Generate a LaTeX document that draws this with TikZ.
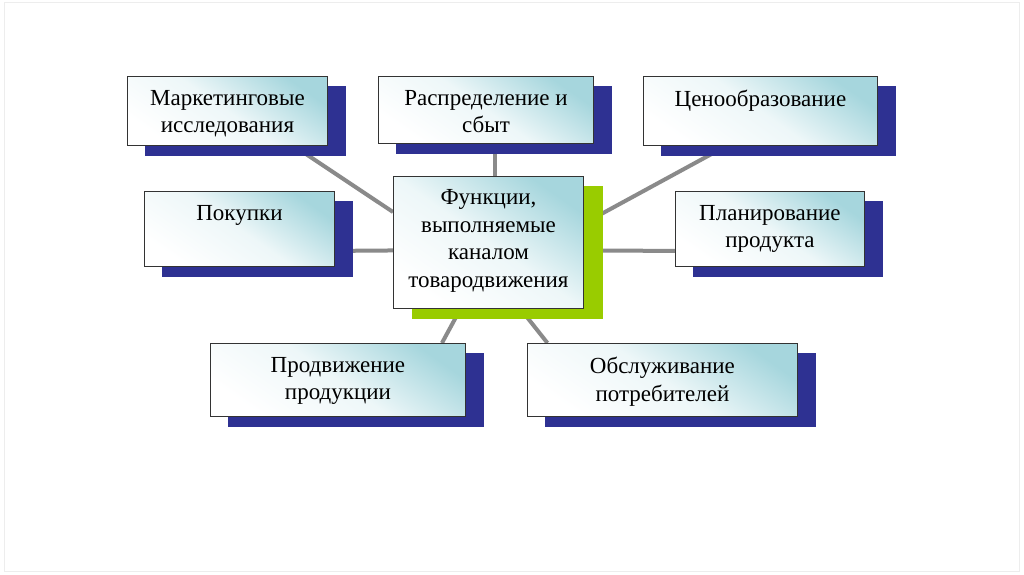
\documentclass[tikz,border=0pt]{standalone}
\usepackage{fontspec}
\setmainfont{Liberation Serif}
\usetikzlibrary{calc}
\definecolor{navy}{HTML}{2E3192}
\definecolor{lime}{HTML}{99CC00}
\definecolor{tealone}{HTML}{A6D6DD}
\definecolor{conn}{HTML}{8A8A8A}
\pgfdeclarelayer{bg}
\pgfdeclarelayer{sh}
\pgfsetlayers{bg,sh,main}
\begin{document}
\begin{tikzpicture}[x=1pt,y=-1pt,
  box/.style={draw=black!80, line width=0.9pt, inner sep=0pt, anchor=north west,
    top color=tealone, bottom color=white, middle color=white!80!tealone, shading angle=-35},
  lbl/.style={font=\fontsize{23}{27.5}\selectfont, align=center, anchor=north, inner sep=0pt},
  connector/.style={draw=conn, line width=4pt},
  shadowfill/.style={fill=navy}]
\useasboundingbox (0,0) rectangle (1024,574);

% boxes
\node[box, minimum width=200pt, minimum height=69pt] (mk) at (127,76) {};
\node[box, minimum width=215pt, minimum height=67pt] (ds) at (378,76) {};
\node[box, minimum width=234pt, minimum height=69pt] (price) at (643,76) {};
\node[box, minimum width=190pt, minimum height=75pt] (pk) at (144,191) {};
\node[box, minimum width=190pt, minimum height=132pt] (ctr) at (393,176) {};
\node[box, minimum width=189pt, minimum height=75pt] (pl) at (675,191) {};
\node[box, minimum width=255pt, minimum height=73pt] (pd) at (210,343) {};
\node[box, minimum width=270pt, minimum height=73pt] (ob) at (527,343) {};

% texts
\node[lbl] (mkt) at ($(mk.north)+(0,14)$) {Маркетинговые\\исследования};
\node[lbl] (dst) at ($(ds.north)+(0,14)$) {Распределение и\\сбыт};
\node[lbl] (pricet) at ($(price.north)+(0,14)$) {Ценообразование};
\node[lbl] (pkt) at ($(pk.north)+(0,14)$) {Покупки};
\node[lbl] (ctrt) at ($(ctr.north)+(0,13.5)$) {Функции,\\выполняемые\\каналом\\товародвижения};
\node[lbl] (plt) at ($(pl.north)+(0,14)$) {Планирование\\продукта};
\node[lbl] (pdt) at ($(pd.north)+(0,14)$) {Продвижение\\продукции};
\node[lbl] (obt) at ($(ob.north)+(0,14)$) {Обслуживание\\потребителей};

% shadows
\begin{pgfonlayer}{sh}
\foreach \b in {mk,ds,price,pk,pl,pd,ob}{
  \fill[shadowfill] ($(\b.north west)+(18,10)$) rectangle ($(\b.south east)+(18,10)$);
}
\fill[lime] ($(ctr.north west)+(19,10)$) rectangle ($(ctr.south east)+(19,10)$);
\end{pgfonlayer}

% background and connectors
\begin{pgfonlayer}{bg}
\fill[white] (0,0) rectangle (1024,574);
\draw[black!7, line width=0.8pt] (4,2) rectangle (1019,571);
\draw[connector] ($(mk.south west)!0.83!(mk.south east)$) -- ($(ctr.north west)+(0,36)$);
\draw[connector] ($(ds.south)+(9.5,0)$) -- ($(ctr.north)+(7,0)$);
\draw[connector] ($(price.south)+(-34,0)$) -- ($(ctr.east)+(0,-19)$);
\draw[connector] ($(pk.south east)+(0,-16)$) -- ($(ctr.west)+(0,8)$);
\draw[connector] ($(pl.south west)+(0,-16)$) -- ($(ctr.east)+(0,8)$);
\draw[connector] ($(ctr.south)+(-28,0)$) -- ($(pd.north)+(104,0)$);
\draw[connector] ($(ctr.south)+(32,0)$) -- ($(ob.north)+(-115,0)$);
\end{pgfonlayer}
\end{tikzpicture}
\end{document}
